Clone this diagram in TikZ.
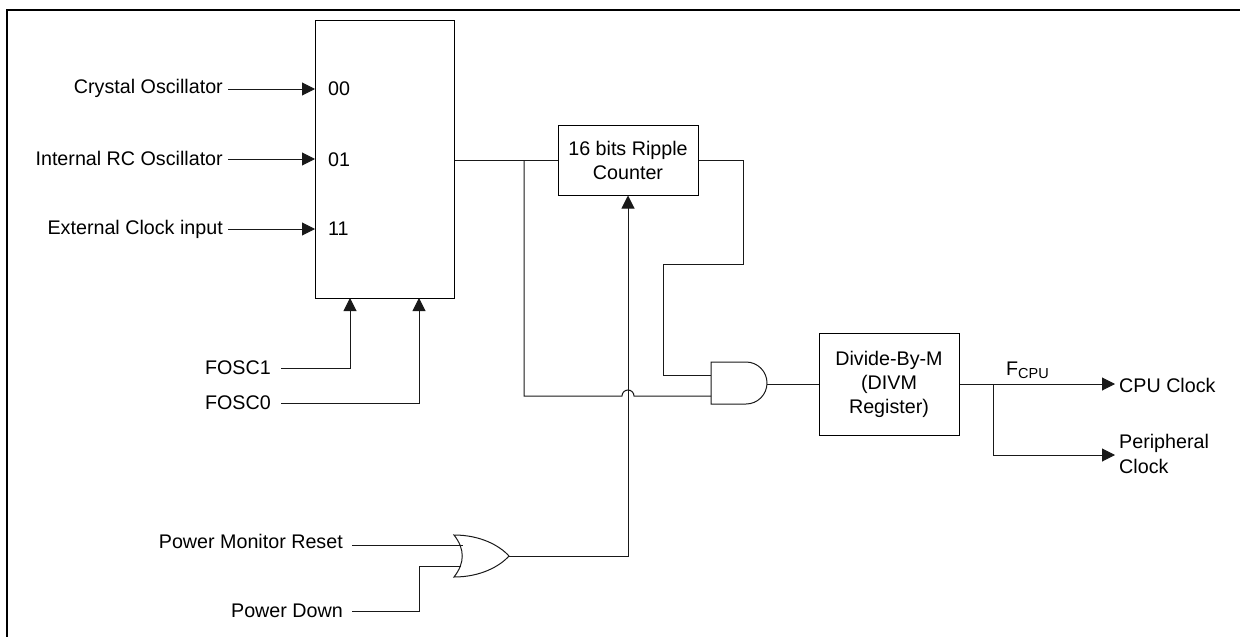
\documentclass[tikz,border=0pt]{standalone}
\usepackage{fontspec}
\setmainfont{Liberation Sans}
\usetikzlibrary{arrows.meta}
\tikzset{
  wire/.style={line width=1pt,draw=black!90},
  arrowwire/.style={wire,-{Triangle[length=13pt,width=13pt]}},
  box/.style={draw=black,line width=1pt,fill=white,align=center,font=\fontsize{19.7}{24}\selectfont,inner sep=0pt},
  lab/.style={font=\fontsize{19.7}{24.5}\selectfont,inner sep=0pt,align=left}
}
\begin{document}
\begin{tikzpicture}[x=1pt,y=-1pt]
\useasboundingbox (0,0) rectangle (1240,637);
\draw[line width=2.2pt] (7,637) -- (7,10) -- (1240,10);
% nodes
\node[box,minimum width=139,minimum height=278] (mux) at (384.5,159) {};
\node[box,minimum width=140,minimum height=70] (rip) at (628,160) {16 bits Ripple\\Counter};
\node[box,minimum width=140,minimum height=102] (div) at (889,384) {Divide-By-M\\(DIVM\\Register)};
\node[lab,anchor=west] at (328,89) {00};
\node[lab,anchor=west] at (328,160) {01};
\node[lab,anchor=west] at (328,229) {11};
\node[lab,anchor=east] (c1) at (223,88.5) {Crystal Oscillator};
\node[lab,anchor=east] (c2) at (223,158.5) {Internal RC Oscillator};
\node[lab,anchor=east] (c3) at (223,229) {External Clock input};
\node[lab,anchor=east] (f1) at (271,368) {FOSC1};
\node[lab,anchor=east] (f0) at (271,403) {FOSC0};
\node[lab,anchor=east] (pm) at (343,541) {Power Monitor Reset};
\node[lab,anchor=east] (pd) at (343,611) {Power Down};
\node[lab,anchor=west] (cpu) at (1119,385) {CPU Clock};
\node[lab,anchor=west] (per) at (1119,454) {Peripheral\\Clock};
\node[lab,anchor=west] (fc) at (1006,370) {F\raisebox{-0.3ex}{\fontsize{14.5}{14.5}\selectfont CPU}};
% gate outlines
\draw[wire,fill=white] (711,362) -- (746,362) arc[start angle=-90,end angle=90,radius=21] -- (711,404) -- cycle;
\coordinate (andout) at (767,384);
\draw[wire,fill=white] (454,535) .. controls (481,535) and (500,546) .. (509,556)
  .. controls (500,566) and (481,577) .. (454,577)
  .. controls (465,563) and (465,549) .. (454,535) -- cycle;
\coordinate (orout) at (509,556);
% connectors
\coordinate (m1) at (315,89);
\coordinate (m2) at (315,159);
\coordinate (m3) at (315,229);
\draw[arrowwire] (c1.east)+(5,0.5) -- (m1);
\draw[arrowwire] (c2.east)+(5,0.5) -- (m2);
\draw[arrowwire] (c3.east)+(5,0) -- (m3);
\coordinate (ms1) at (350,298);
\coordinate (ms0) at (419,298);
\draw[arrowwire] (f1.east)+(10,0) -| (ms1);
\draw[arrowwire] (f0.east)+(10,0) -| (ms0);
\draw[wire] (mux.east |- rip.west) -- (rip.west);
\draw[wire] (524,160) -- (524,396) -- (622,396) arc[start angle=180,end angle=360,radius=6] -- (711,396);
\draw[wire] (rip.east) -- (743,160) -- (743,264) -- (663,264) -- (663,375) -- (711,375);
\draw[wire] (andout) -- (div.west);
\draw[wire] (div.east) -- (993,384);
\draw[arrowwire] (993,384) -- (1115,384);
\draw[arrowwire] (993,384) -- (993,455) -- (1115,455);
\draw[wire] (352,545) -- (463,545);
\draw[wire] (352,611) -- (419,611) -- (419,566) -- (461,566);
\draw[arrowwire] (orout) -- (628,556) -- (rip.south);
\end{tikzpicture}
\end{document}
